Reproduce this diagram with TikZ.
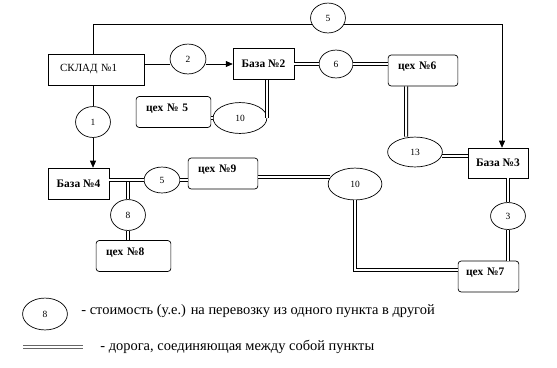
\documentclass[tikz,border=0pt]{standalone}
\usepackage{fontspec}
\setmainfont{Liberation Serif}
\usetikzlibrary{positioning,arrows.meta,shapes.geometric}

\begin{document}
\begin{tikzpicture}[
  x=1bp, y=-1bp,
  >={Triangle[length=7pt,width=6pt]},
  line width=0.7pt,
  box/.style={draw, minimum height=31pt, inner sep=2pt, font=\fontsize{11.5}{13}\selectfont\bfseries},
  rbox/.style={draw, rounded corners=3pt, minimum height=31pt, align=left, inner xsep=10pt, text width=#1, text height=8pt, text depth=10pt, font=\fontsize{11.5}{13}\selectfont\bfseries},
  cost/.style 2 args={draw, ellipse, minimum width=#1, minimum height=#2, inner sep=0pt, font=\fontsize{9.5}{11}\selectfont},
  road/.style={double, double distance=2bp, line width=1bp},
  lab/.style={anchor=west, inner sep=0pt, font=\fontsize{14.5}{16}\selectfont}
]
\useasboundingbox (0,0) rectangle (557,367);

% warehouse, bases and workshops
\node[box, text width=73pt, align=left, inner xsep=12pt, font=\fontsize{11}{13}\selectfont] (sklad) at (96.5,69.5) {СКЛАД №1};
\node[box, minimum width=61pt] (baza2) at (263.5,64) {База №2};
\node[box, minimum width=60pt, minimum height=30pt] (baza3) at (498,163) {База №3};
\node[box, minimum width=61pt] (baza4) at (78.5,183.5) {База №4};
\node[rbox=55pt] (cex5) at (173.5,112) {цех № 5};
\node[rbox=50pt] (cex6) at (423,70.5) {цех №6};
\node[rbox=45pt, inner xsep=8pt] (cex7) at (488.5,276.5) {цех №7};
\node[rbox=55pt] (cex8) at (133.5,256) {цех №8};
\node[rbox=50pt] (cex9) at (223,173.5) {цех №9};

% costs
\node[cost={35pt}{30pt}] (c5top) at (328,18) {5};
\node[cost={36pt}{30pt}] (c2) at (188,59) {2};
\node[cost={34pt}{28pt}] (c6) at (336,64) {6};
\node[cost={54pt}{31pt}] (c10a) at (240,118) {10};
\node[cost={55pt}{30pt}] (c13) at (415,152) {13};
\node[cost={54pt}{32pt}] (c10b) at (355,184) {10};
\node[cost={35pt}{27pt}] (c3) at (508,216) {3};
\node[cost={35pt}{31pt}] (c1) at (93,122) {1};
\node[cost={36pt}{26pt}] (c5b) at (162,180) {5};
\node[cost={35pt}{31pt}] (c8) at (128,215) {8};

% deliveries
\draw (sklad.north -| c1) |- (c5top.200);
\draw[->] (c5top.-20) -| ([xshift=4bp]baza3.north);
\draw (sklad.east |- baza2) -- (c2.west |- baza2);
\draw[->] (c2.east |- baza2) -- (baza2.west);
\draw (sklad.south -| c1) -- (c1.north);
\draw[->] (c1.south) -- (c1.south |- baza4.north);

% roads
\draw[road] (baza2.east) -- (c6.west);
\draw[road] (c6.east) -- (c6.east -| cex6.west);
\draw[road] (baza2.south -| c10a.east) -- (c10a.east);
\draw[road] (c10a.west) -- (c10a.west -| cex5.east);
\draw[road] (cex6.south -| c13.north) ++(-9,0) -- ([xshift=-9bp]c13.north);
\draw[road] ([yshift=7bp]baza3.west) -- ([xshift=-1bp,yshift=7bp]baza3.west -| c13.east);
\draw[road] (baza3.south -| c3.north) -- (c3.north);
\draw[road] (c3.south) -- (c3.south |- cex7.north);
\draw[road] (c8.north |- c5b) -- (c8.north);
\draw[road] (c8.south) -- (c8.south |- cex8.north);
\draw[road] (baza4.east |- c5b) -- (c5b.west);
\draw[road] (c5b.east) -- (c5b.east -| cex9.west);
\draw[road] ([xshift=2.5bp,yshift=7bp]c10b.west) -- ([yshift=7bp]c10b.west -| cex9.east);
\draw[road] (c10b.south) |- ([yshift=6.5pt]cex7.west);

% legend
\node[cost={45pt}{32pt}] (lg8) at (45,314) {8};
\node[lab] (lgtxt1) at (81,311) {- стоимость (у.е.) на перевозку из одного пункта в другой};
\coordinate (lgA) at (23,347);
\coordinate (lgB) at (83,347);
\draw[road, draw=black!60] (lgA) -- (lgB);
\node[lab] (lgtxt2) at (100,347) {- дорога, соединяющая между собой пункты};

\end{tikzpicture}
\end{document}
